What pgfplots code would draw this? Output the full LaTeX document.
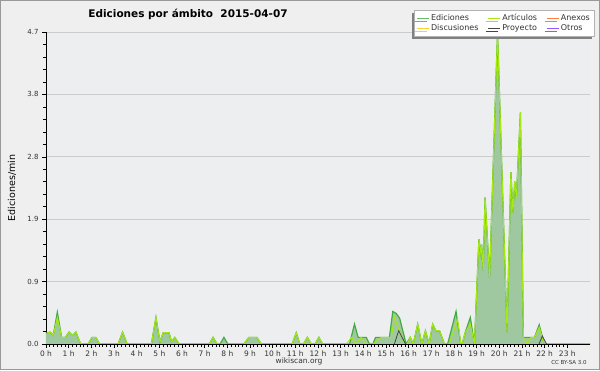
\documentclass[border=0pt]{standalone}
\usepackage{fontspec}
\setmainfont{DejaVu Sans}
\usepackage{pgfplots}
\usepackage{pgfplotstable}
\pgfplotsset{compat=1.18}
\usetikzlibrary{shadows}
\definecolor{bg}{HTML}{EFEFEF}
\definecolor{plotbg}{HTML}{EDEEF0}
\definecolor{edfill}{HTML}{A0C8A0}
\definecolor{edline}{HTML}{44AA44}
\definecolor{artline}{HTML}{A6E810}
\definecolor{anex}{HTML}{FF8040}
\definecolor{disc}{HTML}{FFD030}
\definecolor{proy}{HTML}{444444}
\definecolor{otros}{HTML}{9955FF}
\definecolor{ticktext}{HTML}{333333}

\pgfplotstableread{
t v
0 0.16
0.18 0.18
0.32 0.13
0.5 0.48
0.69 0.1
0.85 0.1
1.02 0.18
1.17 0.13
1.32 0.18
1.53 0
1.86 0
2.03 0.1
2.2 0.1
2.36 0
3.18 0
3.38 0.18
3.58 0
4.65 0
4.85 0.4
5.03 0.03
5.17 0.17
5.43 0.17
5.54 0.03
5.68 0.1
5.87 0
7.2 0
7.37 0.1
7.55 0
7.68 0
7.85 0.1
8.02 0
8.73 0
8.95 0.1
9.3 0.1
9.5 0
10.86 0
11.04 0.17
11.2 0
11.36 0
11.53 0.1
11.7 0
11.87 0
12.04 0.1
12.2 0
13.39 0
13.61 0.3
13.77 0.1
14.13 0.1
14.27 0
14.42 0
14.54 0.1
15.15 0.1
15.3 0.49
15.45 0.46
15.6 0.39
15.89 0
16.07 0.1
16.2 0
16.4 0.3
16.58 0
16.74 0.2
16.9 0
17.06 0.3
17.2 0.2
17.36 0.2
17.58 0
17.72 0
18.09 0.49
18.3 0
18.36 0
18.5 0.18
18.72 0.4
18.9 0
19.1 1.58
19.19 1.35
19.22 1.5
19.29 1.11
19.37 2.21
19.57 1.0
19.92 4.7
20.34 0.18
20.51 2.59
20.6 1.98
20.68 2.45
20.75 2.2
20.93 3.49
21.06 0.1
21.55 0.1
21.76 0.29
21.98 0
24 0
}\ediciones

\pgfplotstableread{
t v
0 0.16
0.18 0.18
0.32 0.13
0.5 0.4
0.69 0.1
0.85 0.1
1.02 0.18
1.17 0.13
1.32 0.18
1.53 0
1.86 0
2.03 0.1
2.2 0.1
2.36 0
3.18 0
3.38 0.18
3.58 0
4.65 0
4.85 0.4
5.03 0.03
5.17 0.17
5.43 0.17
5.54 0.03
5.68 0.1
5.87 0
7.2 0
7.37 0.1
7.55 0
8.73 0
8.95 0.1
9.3 0.1
9.5 0
10.86 0
11.04 0.17
11.2 0
11.36 0
11.53 0.1
11.7 0
11.87 0
12.04 0.1
12.2 0
13.25 0
13.48 0.1
13.68 0
13.9 0.1
14.13 0
14.42 0
14.79 0.1
15.23 0.1
15.37 0.4
15.81 0
15.93 0
16.07 0.1
16.2 0
16.4 0.3
16.58 0
16.74 0.2
16.9 0
17.06 0.3
17.2 0.2
17.36 0.2
17.58 0
17.78 0
18.16 0.37
18.3 0
18.36 0
18.5 0.18
18.72 0.3
18.9 0
19.1 1.58
19.19 1.35
19.22 1.5
19.29 1.11
19.37 2.21
19.57 1.0
19.92 4.7
20.34 0.18
20.51 2.59
20.6 1.98
20.68 2.45
20.75 2.2
20.93 3.49
21.06 0.1
21.22 0
21.39 0.1
21.55 0.1
21.76 0.25
21.98 0
24 0
}\articulos

\begin{document}
\begin{tikzpicture}[x=1pt,y=1pt]
\fill[bg] (0,0) rectangle (600,370);
\begin{axis}[
  at={(46pt,26pt)}, anchor=south west,
  width=544pt, height=312pt, scale only axis,
  xmin=0, xmax=24, ymin=0, ymax=4.7,
  axis lines*=left,
  axis line style={black, line width=0.8pt},
  axis background/.style={fill=plotbg},
  xtick={0,1,...,23},
  xticklabels={0 h,1 h,2 h,3 h,4 h,5 h,6 h,7 h,8 h,9 h,10 h,11 h,12 h,13 h,14 h,15 h,16 h,17 h,18 h,19 h,20 h,21 h,22 h,23 h},
  minor x tick num=5,
  ytick={0,0.94,1.88,2.82,3.76,4.7},
  yticklabels={0.0,0.9,1.9,2.8,3.8,4.7},
  minor y tick num=4,
  ymajorgrids,
  major grid style={draw=black!20, line width=0.8pt},
  tick align=outside,
  major tick length=4pt,
  minor tick length=3pt,
  tick style={black, line width=0.6pt},
  x tick label style={font=\fontsize{7.5}{8}\selectfont, text=ticktext, yshift=1pt},
  y tick label style={font=\fontsize{7}{8}\selectfont, text=ticktext},
  ylabel={Ediciones/min},
  every axis y label/.style={at={(axis description cs:-0.0625,0.5)}, rotate=90, anchor=center, font=\fontsize{9.5}{11}\selectfont},
  legend columns=3,
  legend cell align=left,
  legend style={at={(axis description cs:1.0074,1.0705)}, anchor=north east,
    fill=white, draw=black!30, font=\fontsize{8}{8.5}\selectfont, text=ticktext,
    inner sep=2pt, row sep=-1.5pt,
    /tikz/every even column/.append style={column sep=7pt},
    drop shadow={shadow xshift=-2pt, shadow yshift=-3pt, fill=black!50, opacity=1}},
  legend image code/.code={\draw[#1, line width=0.8pt] (0pt,0pt) -- (12pt,0pt);},
]
\addplot[draw=none, fill=edfill, forget plot] table[x=t,y=v] {\ediciones} \closedcycle;
\addplot[edline, line width=1.2pt, forget plot] table[x=t,y=v] {\ediciones};
\addplot[artline, line width=1pt, forget plot] table[x=t,y=v] {\articulos};
\addplot[proy, line width=0.8pt, forget plot] coordinates {(15.37,0) (15.56,0.2) (15.86,0)};
\addplot[proy, line width=0.8pt, forget plot] coordinates {(21.75,0) (21.9,0.12) (22.08,0)};
\draw[black, line width=0.8pt] (axis cs:0,0) -- (axis cs:24,0);
\addlegendimage{edline!80}
\addlegendentry{Ediciones}
\addlegendimage{artline}
\addlegendentry{Artículos}
\addlegendimage{anex}
\addlegendentry{Anexos}
\addlegendimage{disc}
\addlegendentry{Discusiones}
\addlegendimage{proy}
\addlegendentry{Proyecto}
\addlegendimage{otros}
\addlegendentry{Otros}
\end{axis}
\node[font=\bfseries\fontsize{10.5}{12}\selectfont, anchor=center] at (188,356) {Ediciones por ámbito\ \ 2015-04-07};
\node[font=\fontsize{7.5}{8}\selectfont, text=ticktext, anchor=center] at (299,8.5) {wikiscan.org};
\node[font=\fontsize{5.5}{6}\selectfont, text=ticktext, anchor=center] at (569,8) {CC BY-SA 3.0};
\draw[black!40, line width=1pt] (0.5,0.5) rectangle (599.5,369.5);
\pgfresetboundingbox
\useasboundingbox (0,0) rectangle (600,370);
\end{tikzpicture}
\end{document}
